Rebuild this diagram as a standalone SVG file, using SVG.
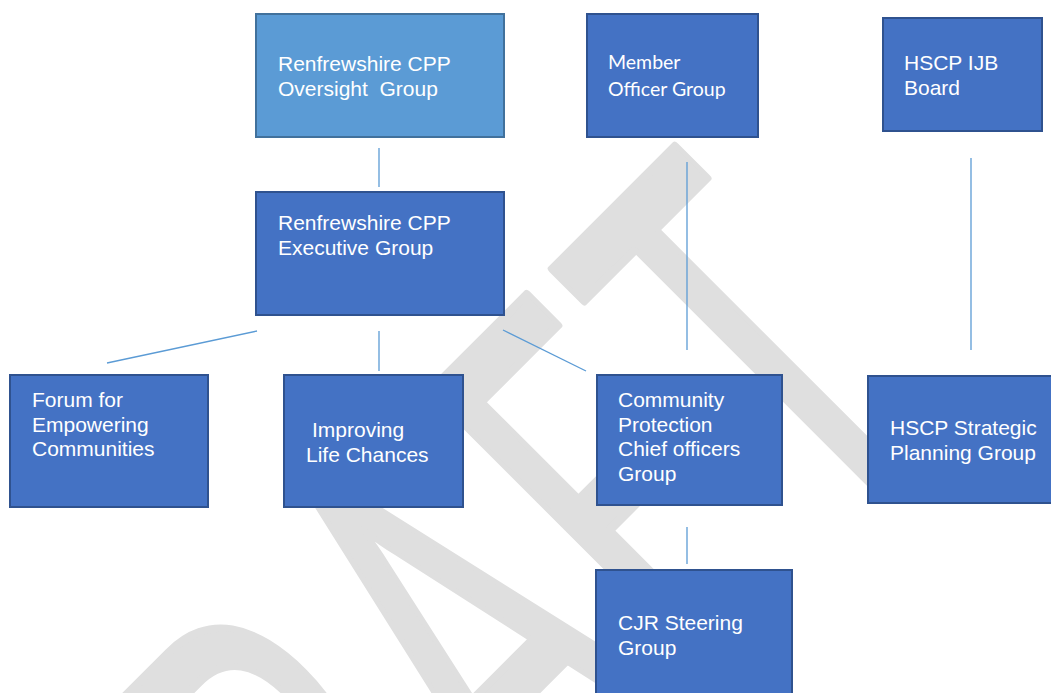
<svg xmlns="http://www.w3.org/2000/svg" width="1051" height="693" viewBox="0 0 1051 693">
<style>
.box{fill:#4472c4;stroke:#2f528f;stroke-width:2}
.box2{fill:#5b9bd5;stroke:#41719c;stroke-width:2}
.t{font-family:"Liberation Sans",Arial,sans-serif;font-size:21px;fill:#ffffff}
.tc{font-family:Lato,"Liberation Sans",sans-serif;font-size:19.5px;fill:#ffffff}
.c{stroke:#5b9bd5;stroke-width:1.3;fill:none}
.wm{font-family:Lato,"Liberation Sans",sans-serif;font-size:315px;fill:#dfdfdf;stroke:#dfdfdf;stroke-width:5;stroke-linejoin:round}
</style>
<rect width="1051" height="693" fill="#ffffff"/>
<g id="watermark" transform="translate(893,487) rotate(-45) scale(1,1.75)">
<text class="wm" text-anchor="middle" x="-838 -623 -405 -200 0" y="0">DRAFT</text>
</g>
<g id="connectors">
<line class="c" x1="379" y1="148" x2="379" y2="187"/>
<line class="c" x1="257" y1="331" x2="107" y2="363"/>
<line class="c" x1="379" y1="331" x2="379" y2="371"/>
<line class="c" x1="503" y1="330" x2="586" y2="371"/>
<line class="c" x1="687" y1="162" x2="687" y2="350"/>
<line class="c" x1="971" y1="158" x2="971" y2="350"/>
<line class="c" x1="687" y1="527" x2="687" y2="564"/>
</g>
<g id="oversight">
<rect class="box2" x="256" y="14" width="248" height="123"/>
<text class="t" x="278" y="71">Renfrewshire CPP</text>
<text class="t" x="278" y="96" xml:space="preserve">Oversight  Group</text>
</g>
<g id="member">
<rect class="box" x="587" y="14" width="171" height="123"/>
<text class="tc" x="608" y="69">Member</text>
<text class="tc" x="608" y="96">Officer Group</text>
</g>
<g id="hscpijb">
<rect class="box" x="883" y="18" width="159" height="113"/>
<text class="t" x="904" y="70">HSCP IJB</text>
<text class="t" x="904" y="95">Board</text>
</g>
<g id="executive">
<rect class="box" x="256" y="192" width="248" height="123"/>
<text class="t" x="278" y="230">Renfrewshire CPP</text>
<text class="t" x="278" y="255">Executive Group</text>
</g>
<g id="forum">
<rect class="box" x="10" y="375" width="198" height="132"/>
<text class="t" x="32" y="407">Forum for</text>
<text class="t" x="32" y="431.5">Empowering</text>
<text class="t" x="32" y="456">Communities</text>
</g>
<g id="improving">
<rect class="box" x="284" y="375" width="179" height="132"/>
<text class="t" x="312" y="437">Improving</text>
<text class="t" x="306" y="461.5">Life Chances</text>
</g>
<g id="community">
<rect class="box" x="597" y="375" width="185" height="130"/>
<text class="t" x="618" y="407">Community</text>
<text class="t" x="618" y="431.5">Protection</text>
<text class="t" x="618" y="456">Chief officers</text>
<text class="t" x="618" y="480.5">Group</text>
</g>
<g id="hscpstrategic">
<rect class="box" x="868" y="376" width="185" height="127"/>
<text class="t" x="890" y="435">HSCP Strategic</text>
<text class="t" x="890" y="459.5">Planning Group</text>
</g>
<g id="cjr">
<rect class="box" x="596" y="570" width="196" height="130"/>
<text class="t" x="618" y="630">CJR Steering</text>
<text class="t" x="618" y="655">Group</text>
</g>
</svg>
